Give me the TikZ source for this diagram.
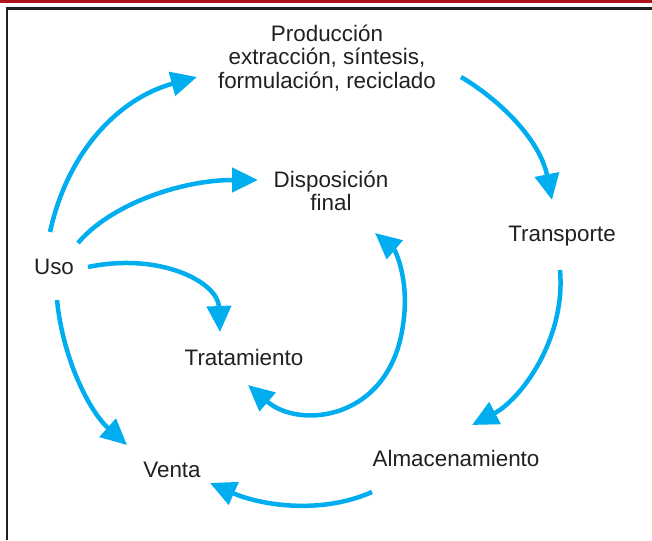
\documentclass[tikz,border=0pt]{standalone}
\usepackage{fontspec}
\setmainfont{Liberation Sans}
\usetikzlibrary{arrows.meta}
\definecolor{cyanarrow}{HTML}{00AEEF}
\definecolor{txt}{HTML}{231F20}
\definecolor{topred}{HTML}{B0121B}
\begin{document}
\begin{tikzpicture}[x=1pt,y=-1pt,
  lbl/.style={text=txt,font=\fontsize{22.4}{23.6}\selectfont,align=center,inner sep=0pt},
  flow/.style={cyanarrow,line width=4.5pt,-{Triangle[length=26pt,width=24pt]}},
  flowboth/.style={cyanarrow,line width=4.5pt,{Triangle[length=26pt,width=24pt]}-{Triangle[length=26pt,width=24pt]}}]
\useasboundingbox (0,0) rectangle (652,540);
\fill[topred] (0,0) rectangle (652,3);
\draw[txt,line width=2.5pt] (7,540) -- (7,8.5) -- (652,8.5);
% labels
\node[lbl] (prod) at (327,58) {Producción\\extracción, síntesis,\\formulación, reciclado};
\node[lbl] (disp) at (331,191) {Disposición\\final};
\node[lbl] (trans) at (562,236) {Transporte};
\node[lbl] (uso) at (54,267) {Uso};
\node[lbl] (trat) at (244,357) {Tratamiento};
\node[lbl] (alm) at (456,458) {Almacenamiento};
\node[lbl] (venta) at (172,470) {Venta};
% connector end points
\coordinate (u1) at (50,232);   \coordinate (p1) at (197,77);
\coordinate (u2) at (78,243);   \coordinate (d1) at (258,180);
\coordinate (u3) at (88,267);   \coordinate (t1) at (220,332);
\coordinate (u4) at (57,300);   \coordinate (v1) at (127,445);
\coordinate (p2) at (461,77);   \coordinate (tr1) at (552,200);
\coordinate (tr2) at (560,270); \coordinate (a1) at (472,425);
\coordinate (a2) at (372,492);  \coordinate (v2) at (210,483);
\coordinate (t2) at (248,385);  \coordinate (d2) at (375,233);
\coordinate (lp) at (403,325);
% connectors
\draw[flow] (u1) .. controls (68,150) and (120,98) .. (p1);
\draw[flow] (u2) .. controls (110,205) and (180,180) .. (d1);
\draw[flow] (u3) .. controls (160,252) and (218,282) .. (t1);
\draw[flow] (u4) .. controls (63,360) and (90,412) .. (v1);
\draw[flow] (p2) .. controls (500,100) and (540,140) .. (tr1);
\draw[flow] (tr2) .. controls (566,340) and (520,400) .. (a1);
\draw[flow] (a2) .. controls (320,515) and (260,505) .. (v2);
\draw[flowboth] (t2) .. controls (300,430) and (390,420) .. (lp) .. controls (410,280) and (395,250) .. (d2);
\end{tikzpicture}
\end{document}
